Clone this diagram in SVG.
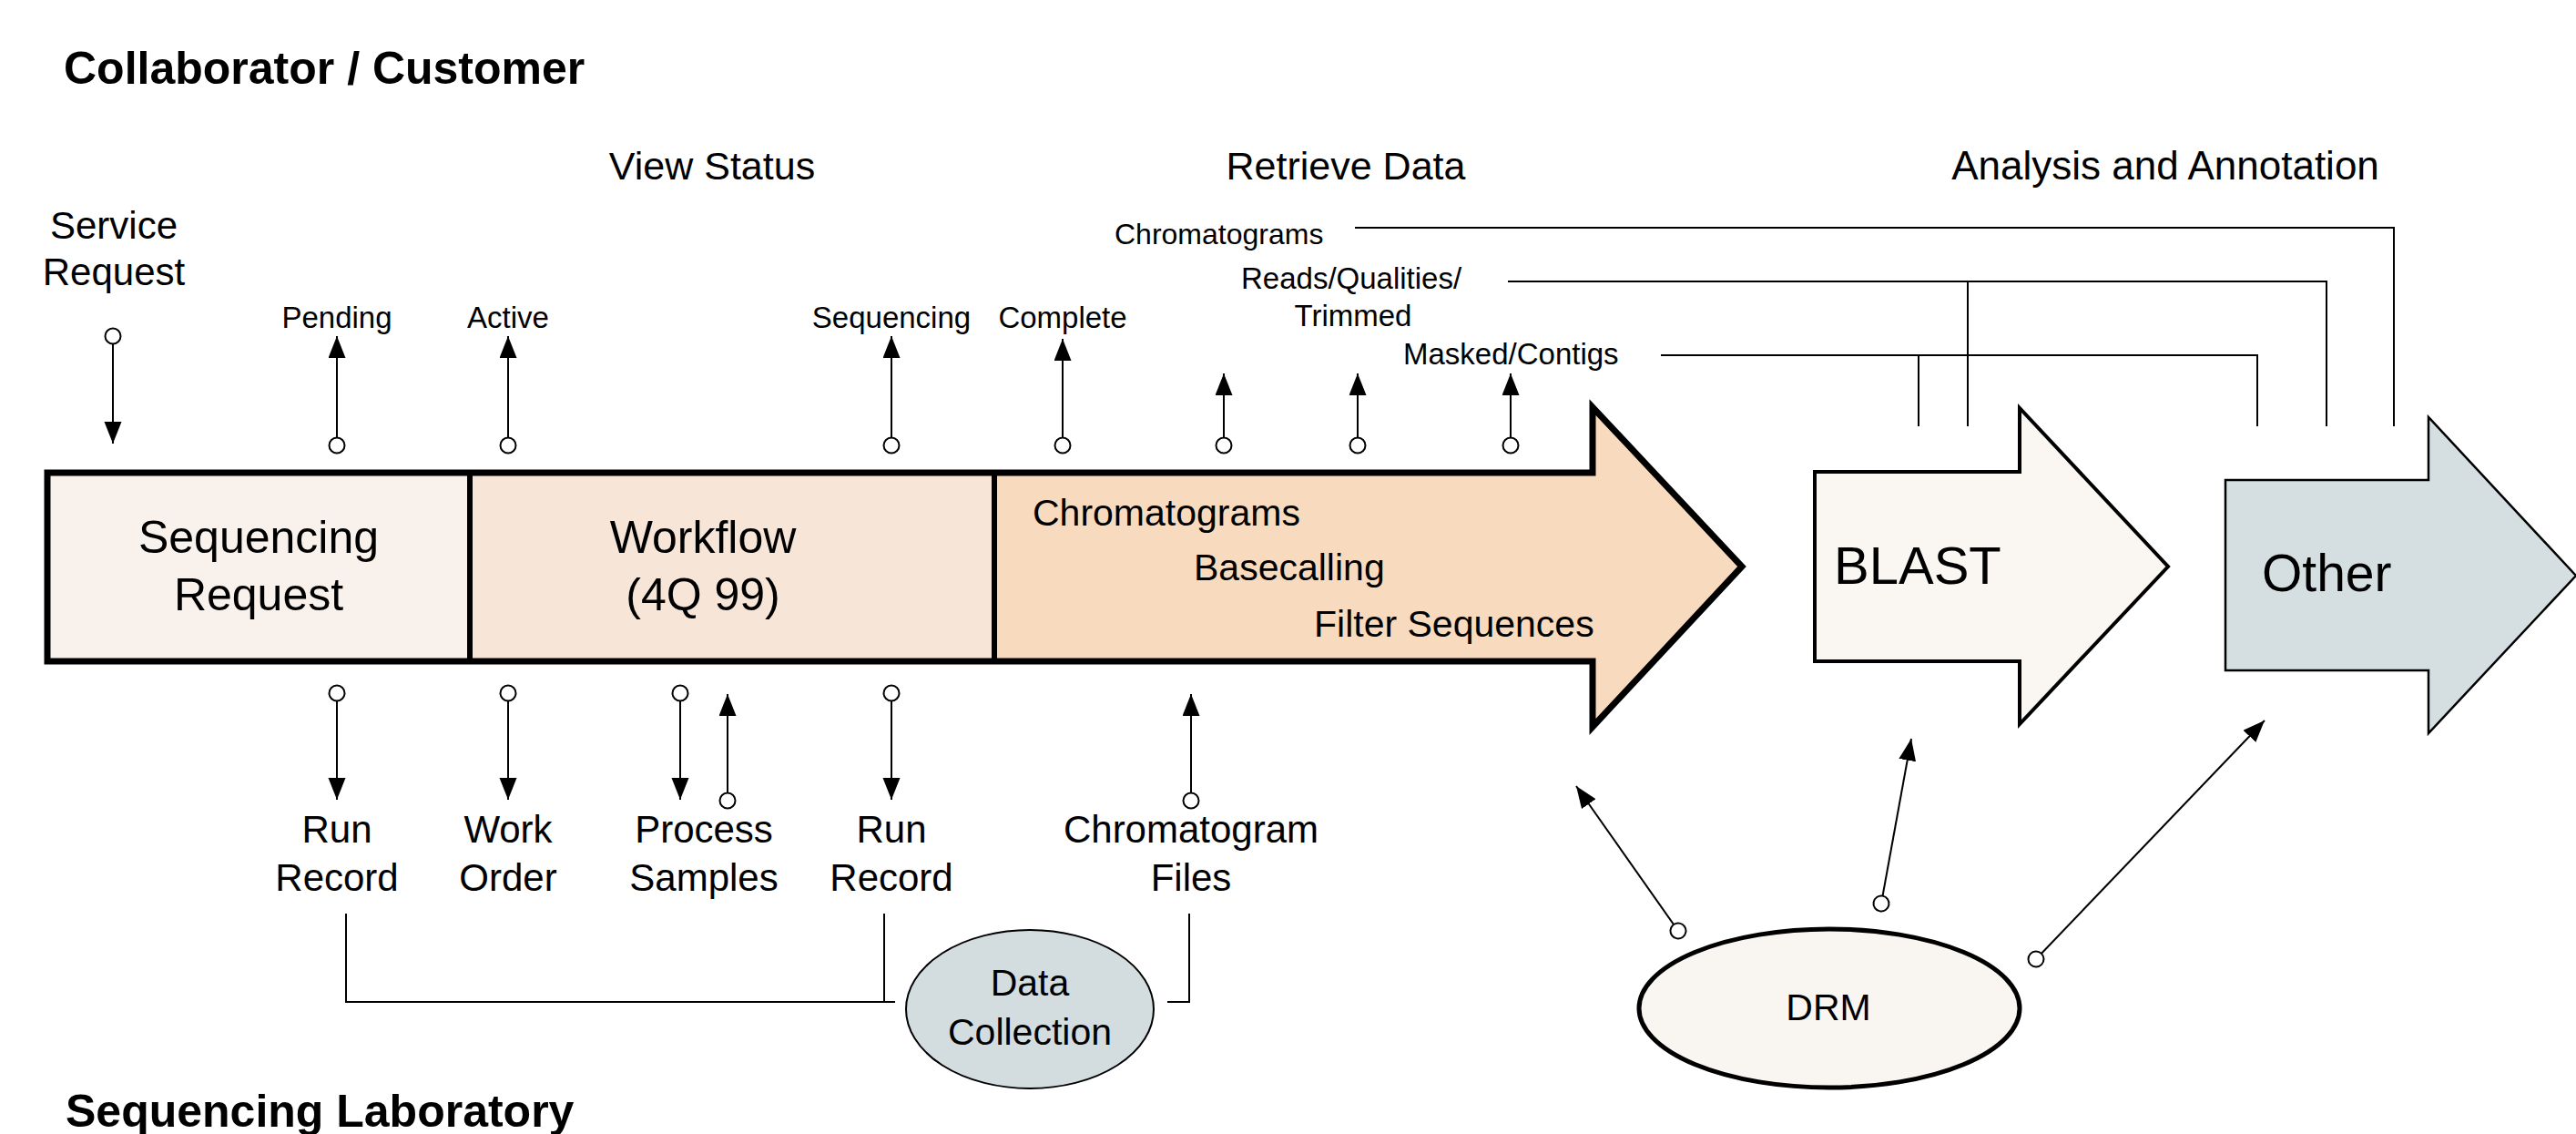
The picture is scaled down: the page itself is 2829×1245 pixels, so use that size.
<svg xmlns="http://www.w3.org/2000/svg" width="2829" height="1245" viewBox="0 0 2829 1245">
<defs>
<marker id="tri" markerUnits="userSpaceOnUse" markerWidth="26" markerHeight="20" refX="24" refY="9.5" orient="auto">
<path d="M0,0 L24,9.5 L0,19 Z" fill="#000"/>
</marker>
<marker id="dot" markerUnits="userSpaceOnUse" markerWidth="22" markerHeight="22" refX="11" refY="11" orient="auto">
<circle cx="11" cy="11" r="8.5" fill="#fff" stroke="#000" stroke-width="2"/>
</marker>
<style>
text{font-family:"Liberation Sans",Arial,Helvetica,sans-serif;fill:#000}
.h{font-weight:bold;font-size:50px}
.sec{font-size:43px;text-anchor:middle}
.st{font-size:33px;text-anchor:middle}
.lb{font-size:42px;text-anchor:middle}
.big{font-size:50px;text-anchor:middle}
.step{font-size:41px}
.ret{font-size:33px}
.c{text-anchor:middle}
.arr{stroke:#000;stroke-width:2;fill:none;marker-start:url(#dot);marker-end:url(#tri)}
.ln{stroke:#000;stroke-width:2;fill:none}
</style>
</defs>
<rect width="2829" height="1245" fill="#fff"/>

<g id="headings">
<text class="h" x="70" y="92">Collaborator / Customer</text>
<text class="h" x="72" y="1237">Sequencing Laboratory</text>
<text class="sec" x="782" y="197">View Status</text>
<text class="sec" x="1478" y="197">Retrieve Data</text>
<text class="sec" x="2378" y="197" style="font-size:44px">Analysis and Annotation</text>
</g>

<g id="pipeline">
<rect x="52" y="519" width="464" height="207" fill="#F9F1EC"/>
<rect x="516" y="519" width="576" height="207" fill="#F7E6D7"/>
<path d="M1092,519 H1749 V447 L1913,622 L1749,798 V726 H1092 Z" fill="#F8DBBE"/>
<path d="M52,519 H1749 V447 L1913,622 L1749,798 V726 H52 Z" fill="none" stroke="#000" stroke-width="7" stroke-linejoin="miter"/>
<line x1="516" y1="519" x2="516" y2="726" stroke="#000" stroke-width="6"/>
<line x1="1092" y1="519" x2="1092" y2="726" stroke="#000" stroke-width="6"/>
</g>

<g id="sequencing-request">
<text class="big" x="284" y="607">Sequencing</text>
<text class="big" x="284" y="670">Request</text>
</g>
<g id="workflow">
<text class="big" x="772" y="607">Workflow</text>
<text class="big" x="772" y="670">(4Q 99)</text>
</g>
<g id="processing">
<text class="step" x="1134" y="577">Chromatograms</text>
<text class="step" x="1311" y="637">Basecalling</text>
<text class="step" x="1443" y="699">Filter Sequences</text>
</g>

<g id="blast">
<path d="M1993,518 H2218 V448 L2381,622 L2218,795 V726 H1993 Z" fill="#FAF7F2" stroke="#000" stroke-width="4"/>
<text x="2014" y="641" style="font-size:58px">BLAST</text>
</g>
<g id="other">
<path d="M2444,527 H2667 V458 L2829,632 L2667,805 V736 H2444 Z" fill="#D5DFE2" stroke="#000" stroke-width="2.5"/>
<text x="2484" y="649" style="font-size:57px">Other</text>
</g>

<g id="data-collection">
<ellipse cx="1131" cy="1108" rx="136" ry="87" fill="#D3DDE0" stroke="#000" stroke-width="2"/>
<text class="c" x="1131" y="1093" style="font-size:41px">Data</text>
<text class="c" x="1131" y="1147" style="font-size:41px">Collection</text>
</g>

<g id="drm">
<ellipse cx="2009" cy="1107" rx="209" ry="87" fill="#F9F6F1" stroke="#000" stroke-width="5"/>
<text class="c" x="2008" y="1120" style="font-size:41px">DRM</text>
</g>

<g id="labels">
<text class="lb" x="125" y="262">Service</text>
<text class="lb" x="125" y="313">Request</text>
<text class="st" x="370" y="360">Pending</text>
<text class="st" x="558" y="360">Active</text>
<text class="st" x="979" y="360">Sequencing</text>
<text class="st" x="1167" y="360">Complete</text>
<text class="ret" x="1224" y="268" style="font-size:32px">Chromatograms</text>
<text class="ret" x="1363" y="317">Reads/Qualities/</text>
<text class="ret c" x="1486" y="358">Trimmed</text>
<text class="ret" x="1541" y="400">Masked/Contigs</text>
<text class="lb" x="370" y="925">Run</text>
<text class="lb" x="370" y="978">Record</text>
<text class="lb" x="558" y="925">Work</text>
<text class="lb" x="558" y="978">Order</text>
<text class="lb" x="773" y="925">Process</text>
<text class="lb" x="773" y="978">Samples</text>
<text class="lb" x="979" y="925">Run</text>
<text class="lb" x="979" y="978">Record</text>
<text class="lb" x="1308" y="925">Chromatogram</text>
<text class="lb" x="1308" y="978">Files</text>
</g>

<g id="connectors">
<line class="arr" x1="124" y1="369" x2="124" y2="487"/>
<line class="arr" x1="370" y1="489" x2="370" y2="369"/>
<line class="arr" x1="558" y1="489" x2="558" y2="369"/>
<line class="arr" x1="979" y1="489" x2="979" y2="369"/>
<line class="arr" x1="1167" y1="489" x2="1167" y2="372"/>
<line class="arr" x1="1344" y1="489" x2="1344" y2="410"/>
<line class="arr" x1="1491" y1="489" x2="1491" y2="410"/>
<line class="arr" x1="1659" y1="489" x2="1659" y2="410"/>
<line class="arr" x1="370" y1="761" x2="370" y2="878"/>
<line class="arr" x1="558" y1="761" x2="558" y2="878"/>
<line class="arr" x1="747" y1="761" x2="747" y2="878"/>
<line class="arr" x1="799" y1="879" x2="799" y2="762"/>
<line class="arr" x1="979" y1="761" x2="979" y2="878"/>
<line class="arr" x1="1308" y1="879" x2="1308" y2="762"/>
<line class="arr" x1="1843" y1="1022" x2="1731" y2="863"/>
<line class="arr" x1="2066" y1="992" x2="2099" y2="811"/>
<line class="arr" x1="2236" y1="1053" x2="2487" y2="791"/>
<polyline class="ln" points="380,1003 380,1100 983,1100"/>
<line class="ln" x1="971" y1="1003" x2="971" y2="1100"/>
<polyline class="ln" points="1306,1003 1306,1100 1282,1100"/>
<polyline class="ln" points="1488,250 2629,250 2629,468"/>
<polyline class="ln" points="1656,309 2555,309 2555,468"/>
<line class="ln" x1="2161" y1="309" x2="2161" y2="468"/>
<polyline class="ln" points="1824,390 2479,390 2479,468"/>
<line class="ln" x1="2107" y1="390" x2="2107" y2="468"/>
</g>
</svg>
